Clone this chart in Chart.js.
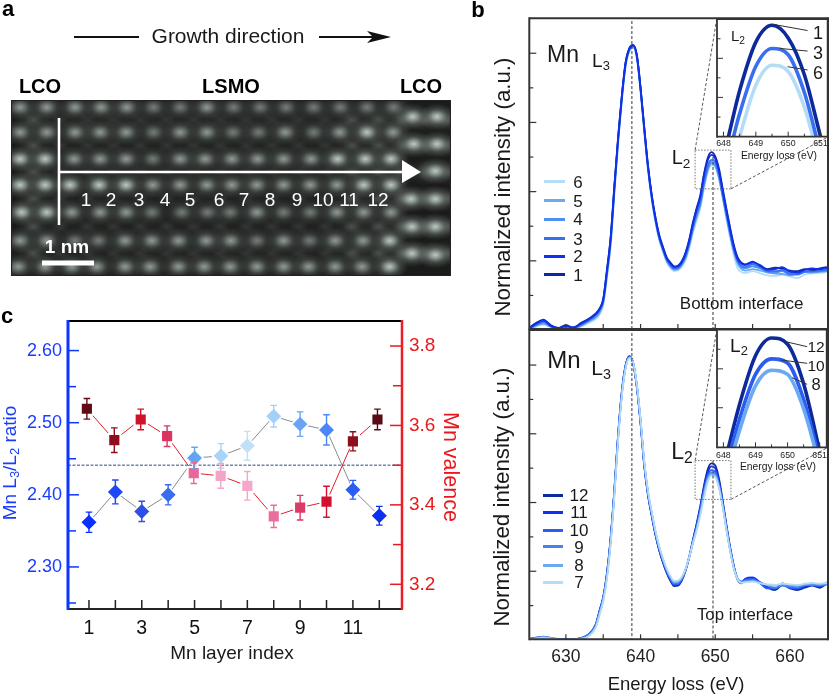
<!DOCTYPE html>
<html><head><meta charset="utf-8">
<script src="https://cdn.jsdelivr.net/npm/chart.js@4"></script>
<style>
html,body{margin:0;padding:0;background:#fff;width:830px;height:694px;overflow:hidden;font-family:"Liberation Sans",Arial,sans-serif}
canvas{position:absolute}
#ov{position:absolute;left:0;top:0;width:830px;height:694px;pointer-events:none}
.t{position:absolute;white-space:nowrap;line-height:1;transform-origin:center}
.k{position:absolute;height:3px}
sub{font-size:.68em;line-height:0;vertical-align:-.3em}
svg{position:absolute;left:0;top:0}
</style></head><body>
<canvas id="cA" width="440" height="176" style="left:11px;top:100px"></canvas>
<canvas id="cC" width="470" height="394" style="left:0;top:300px"></canvas>
<canvas id="cT" width="360" height="330" style="left:470px;top:0"></canvas>
<canvas id="cB" width="360" height="365" style="left:470px;top:329px"></canvas>
<canvas id="cTi" width="130" height="165" style="left:700px;top:0"></canvas>
<canvas id="cBi" width="130" height="165" style="left:700px;top:315px"></canvas>
<svg width="830" height="694" viewBox="0 0 830 694">
 <line x1="74" y1="37" x2="139" y2="37" stroke="#111" stroke-width="2"/>
 <line x1="319" y1="37" x2="378" y2="37" stroke="#111" stroke-width="2"/>
 <path d="M367 31 L391 37 L367 43 L373 37 Z" fill="#111"/>
 <line x1="59" y1="118" x2="59" y2="225" stroke="#fff" stroke-width="2.6"/>
 <line x1="59" y1="172" x2="404" y2="172" stroke="#fff" stroke-width="2.6"/>
 <path d="M402 160 L421 172 L402 183 Z" fill="#fff"/>
 <rect x="42" y="260.5" width="52" height="5" fill="#fff"/>
</svg>
<div id="ov"></div>
<script>
// ---------- panel c data ----------
const layerIndex=[1,2,3,4,5,6,7,8,9,10,11,12];
const valenceX=[0.92,1.96,2.96,3.96,4.97,5.99,7,8,9,10,11,11.93];
const ratio=[2.362,2.404,2.377,2.400,2.451,2.454,2.468,2.509,2.498,2.490,2.407,2.371];
const ratioErr=[.014,.0166,.014,.014,.015,.017,.02,.015,.017,.021,.013,.013];
const valence=[3.642,3.563,3.615,3.573,3.480,3.473,3.448,3.371,3.393,3.408,3.560,3.615];
const valenceErr=[.026,.031,.026,.026,.026,.031,.036,.028,.031,.039,.024,.026];
const ratioColors=['#0a2fff','#1f48f5','#2a50e8','#3a6cf0','#64a3f5','#a9d4f8','#bfe2fa','#a4d0f8','#6ba4f5','#4b87f7','#2a5ff0','#0a2fee'];
const valenceColors=['#620b15','#8f0e1d','#cf1228','#d93562','#e8679b','#f2a5c6','#f5a8c8','#ea6f9e','#dc3a68','#d3102e','#8d0f1c','#5a0a14'];
const ratioTicks=[2.25,2.30,2.35,2.40,2.45,2.50,2.55,2.60];
const valenceTicks=[3.2,3.3,3.4,3.5,3.6,3.7,3.8];
const halfValence=3.5;
// ---------- panel b data ----------
const energy=[625,626,627,628,629,630,631,632,633,634,634.5,635,635.5,636,636.5,637,637.5,638,638.5,639,639.5,640,640.5,641,641.5,642,642.5,643,643.5,644,644.5,645,645.5,646,646.5,647,647.5,648,648.5,649,649.5,650,650.5,651,651.5,652,652.5,653,653.5,654,655,656,657,658,659,660,661,662,663,664,665];
const layer1=[.005,.02,.03,.012,.006,.014,.006,.02,.032,.048,.062,.09,.175,.27,.42,.56,.68,.775,.815,.824,.795,.70,.585,.475,.39,.325,.275,.24,.21,.195,.184,.186,.198,.222,.26,.31,.352,.39,.452,.498,.514,.502,.467,.408,.35,.295,.245,.21,.195,.19,.198,.186,.176,.18,.178,.172,.17,.176,.174,.178,.182];
const layer2=[.004,.018,.028,.014,.005,.012,.008,.018,.03,.046,.06,.088,.172,.268,.418,.558,.678,.773,.814,.823,.795,.70,.583,.473,.388,.323,.272,.238,.208,.192,.182,.184,.196,.22,.257,.306,.348,.385,.448,.49,.506,.495,.46,.402,.345,.29,.24,.205,.192,.188,.195,.188,.174,.176,.182,.168,.166,.174,.178,.176,.18];
const layer3=[.004,.016,.024,.012,.006,.01,.005,.016,.028,.044,.058,.085,.168,.262,.412,.553,.675,.77,.812,.822,.793,.697,.58,.47,.385,.32,.268,.234,.204,.188,.178,.18,.192,.214,.25,.298,.338,.372,.43,.475,.492,.486,.45,.392,.336,.282,.234,.2,.186,.182,.19,.182,.17,.17,.174,.162,.16,.168,.17,.172,.174];
const layer4=[.003,.014,.022,.01,.004,.009,.006,.014,.026,.04,.055,.082,.163,.258,.408,.55,.672,.768,.81,.82,.79,.695,.578,.468,.382,.317,.266,.232,.202,.186,.176,.178,.19,.21,.246,.293,.332,.366,.424,.468,.486,.48,.445,.388,.332,.278,.23,.197,.182,.178,.184,.178,.168,.166,.17,.16,.162,.17,.168,.17,.172];
const layer5=[.003,.012,.018,.01,.005,.008,.004,.012,.024,.037,.05,.078,.158,.252,.402,.545,.668,.765,.808,.818,.788,.692,.575,.465,.38,.315,.264,.23,.2,.183,.174,.176,.187,.207,.242,.288,.326,.36,.418,.462,.481,.475,.44,.384,.328,.274,.226,.192,.176,.172,.176,.172,.166,.163,.162,.158,.165,.168,.166,.168,.17];
const layer6=[.002,.01,.016,.008,.004,.007,.004,.01,.02,.032,.045,.072,.15,.245,.395,.54,.664,.762,.806,.816,.785,.688,.57,.46,.375,.31,.26,.226,.196,.178,.17,.172,.182,.2,.235,.28,.315,.352,.408,.457,.476,.47,.436,.38,.32,.265,.215,.178,.168,.165,.17,.164,.158,.156,.16,.155,.15,.16,.164,.165,.168];
const layer12=[.002,.006,.008,.004,.003,.002,.001,.004,.014,.045,.085,.125,.195,.30,.44,.60,.725,.80,.826,.805,.735,.63,.505,.42,.36,.305,.26,.225,.195,.172,.157,.158,.172,.2,.24,.29,.338,.39,.45,.497,.514,.508,.47,.405,.335,.27,.215,.175,.165,.175,.178,.165,.152,.145,.16,.15,.145,.152,.158,.152,.165];
const layer11=[.002,.005,.007,.004,.002,.002,.001,.005,.015,.045,.084,.124,.193,.298,.438,.598,.723,.798,.825,.806,.737,.632,.507,.422,.362,.307,.262,.227,.197,.174,.159,.16,.174,.201,.24,.288,.334,.385,.444,.488,.505,.5,.462,.4,.33,.266,.212,.176,.168,.178,.182,.168,.155,.148,.165,.155,.148,.155,.16,.155,.168];
const layer10=[.003,.007,.009,.005,.003,.002,.002,.006,.016,.044,.082,.122,.19,.295,.435,.595,.72,.796,.824,.806,.738,.634,.51,.425,.365,.31,.265,.23,.2,.177,.162,.163,.176,.202,.24,.285,.33,.38,.436,.479,.494,.49,.455,.396,.328,.264,.212,.178,.17,.176,.178,.165,.15,.15,.16,.152,.15,.158,.162,.16,.166];
const layer9=[.002,.006,.01,.006,.002,.001,.002,.005,.014,.042,.08,.12,.187,.292,.432,.592,.718,.795,.823,.807,.74,.637,.513,.428,.368,.313,.268,.233,.203,.18,.165,.166,.178,.203,.24,.283,.326,.375,.43,.473,.488,.484,.45,.392,.325,.262,.21,.178,.17,.172,.175,.168,.158,.152,.158,.155,.154,.16,.16,.158,.162];
const layer8=[.001,.005,.008,.005,.002,.001,.001,.004,.012,.04,.077,.117,.184,.288,.428,.588,.715,.793,.822,.808,.742,.64,.516,.43,.37,.315,.27,.235,.205,.183,.168,.169,.18,.204,.24,.282,.322,.37,.425,.468,.483,.479,.446,.39,.322,.26,.208,.177,.168,.17,.172,.166,.16,.158,.162,.16,.158,.162,.164,.162,.164];
const layer7=[.001,.004,.006,.004,.001,.001,.001,.003,.01,.036,.072,.112,.178,.28,.42,.582,.71,.79,.82,.808,.744,.643,.52,.433,.373,.318,.273,.238,.208,.186,.172,.173,.183,.205,.24,.28,.318,.362,.415,.46,.478,.474,.442,.386,.32,.258,.207,.176,.166,.168,.17,.165,.162,.16,.164,.162,.16,.164,.166,.164,.166];
const bottomIfaceNames=['6','5','4','3','2','1'];
const bottomIfaceSeries=[layer6,layer5,layer4,layer3,layer2,layer1];
const bottomIfaceColors=['#b5dcf7','#6aaaf0','#4f8ef5','#3a6ef0','#1030f0','#0c2a9a'];
const topIfaceNames=['12','11','10','9','8','7'];
const topIfaceSeries=[layer12,layer11,layer10,layer9,layer8,layer7];
const topIfaceColors=['#0c2a9a','#1030f0','#2c5cf0','#4a80ee','#6aaaf5','#b5dcf7'];
const energyTicks=[630,635,640,645,650,655,660];
const energyLabels=[630,640,650,660];
const intensityTicks=[.1,.2,.3,.4,.5,.6,.7,.8];
const insetEnergyTicks=[648,648.5,649,649.5,650,650.5,651];
const insetEnergyLabels=[648,649,650,651];
const insetTicksUpper=[.4267,.4454,.464,.4826,.5012];
const insetTicksLower=[.428,.447,.4659,.4844,.5032];
// ---------- panel a data (image columns / rows of atoms) ----------
const atomRowY=[322,397,477,555,637,722,800];
const atomX=[
 [60,140,225,303,380,460,540,620,700,780,858,940,1020,1100,1180],
 [60,140,225,300,378,460,540,620,698,775,855,940,1018,1100,1178],
 [60,135,222,300,378,458,540,615,695,772,850,932,1012,1095,1172],
 [60,135,210,297,378,458,540,620,695,770,850,930,1010,1090,1172],
 [65,140,215,300,378,455,545,622,690,770,850,930,1010,1090,1172],
 [60,140,225,295,375,455,535,618,692,770,850,928,1005,1088,1168],
 [55,135,215,290,375,450,535,612,690,770,850,925,1005,1085,1168]];
const atomLevel=[
 [2,2,2,2,2,1,1,2,1,1,1,1,1,1,1],
 [2,2,2,2,2,1,2,2,1,1,2,1,2,3,2],
 [3,3,2,2,2,1,2,2,2,2,2,2,3,3,3],
 [3,3,3,3,3,2,2,2,2,2,2,2,2,3,3],
 [3,3,2,2,2,1,1,1,1,2,1,1,2,2,2],
 [2,2,1,1,2,2,2,2,2,1,2,1,2,2,3],
 [2,2,2,2,2,2,2,2,2,2,2,2,2,2,3]];
const lcoAtomX=[1237,1310,1240,1310,1305,1232,1305,1235,1305,1235,1305];
const lcoAtomY=[350,350,432,432,513,597,597,680,680,760,765];
const faintRowY=[360,437,516,596,680,760];
const faintX=[100,180,262,340,420,500,580,660,738,815,895,975,1055,1135,1205,1275,1340];
const faintLevel=[5,4,4,4,4,4,4,4,4,4,4,4,5,5,5,5,5];

Chart.defaults.font.family='"Liberation Sans",Arial,sans-serif';
Chart.defaults.animation=false;
const pts=(xs,ys)=>xs.map((x,i)=>({x,y:ys[i]}));
let decoN=0;
function deco(cfg){return{id:'deco'+(decoN++),
 beforeDatasetsDraw(ch){if(!cfg.fill)return;const a=ch.chartArea,c=ch.ctx;c.save();c.fillStyle=cfg.fill;c.fillRect(a.left,a.top,a.width,a.height);c.restore()},
 afterDatasetsDraw(ch){const a=ch.chartArea,c=ch.ctx;c.save();
  (cfg.ticks||[]).forEach(t=>{const s=ch.scales[t.scale];c.strokeStyle=t.color;c.lineWidth=t.width||1;
   t.values.forEach((v,i)=>{const p=s.getPixelForValue(v),L=t.len(v,i);c.beginPath();
    if(t.side==='left'){c.moveTo(a.left,p);c.lineTo(a.left+L,p)}
    else if(t.side==='right'){c.moveTo(a.right,p);c.lineTo(a.right-L,p)}
    else if(t.side==='bottom'){c.moveTo(p,a.bottom);c.lineTo(p,a.bottom-L)}
    c.stroke()})});
  (cfg.frame||[]).forEach(f=>{c.strokeStyle=f.color;c.lineWidth=f.width;c.beginPath();
   if(f.side==='left'){c.moveTo(a.left,a.top-1);c.lineTo(a.left,a.bottom+1)}
   if(f.side==='right'){c.moveTo(a.right,a.top-1);c.lineTo(a.right,a.bottom+1)}
   if(f.side==='top'){c.moveTo(a.left,a.top);c.lineTo(a.right,a.top)}
   if(f.side==='bottom'){c.moveTo(a.left,a.bottom);c.lineTo(a.right,a.bottom)}
   c.stroke()});
  if(cfg.after)cfg.after(ch,c);
  c.restore()}}}
const hiddenLinear=(min,max,extra)=>Object.assign({type:'linear',min,max,display:false},extra||{});
const noChrome={legend:{display:false},tooltip:{enabled:false}};
const box4=(color,width)=>['left','right','top','bottom'].map(side=>({side,color,width}));
const noGrid={display:false,drawTicks:false};

// ---------- panel a ----------
function sprite(alpha){const w=38,h=28,k=document.createElement('canvas');k.width=w;k.height=h;const c=k.getContext('2d');
 c.translate(w/2,h/2);c.scale(1,.74);const g=c.createRadialGradient(0,0,0,0,0,w/2);
 g.addColorStop(0,`rgba(196,208,200,${alpha})`);g.addColorStop(.26,`rgba(165,178,170,${alpha*.78})`);g.addColorStop(.55,`rgba(120,130,124,${alpha*.4})`);g.addColorStop(1,'rgba(90,95,92,0)');
 c.fillStyle=g;c.fillRect(-w/2,-h/2/.74,w,h/.74);return k}
const sprites={1:sprite(.56),2:sprite(.72),3:sprite(.98),4:sprite(.16),5:sprite(.3)};
const atomSets=atomX.map((xs,r)=>({type:'scatter',label:'row '+(r+1),data:xs.map(x=>({x,y:atomRowY[r]})),pointStyle:atomLevel[r].map(l=>sprites[l]),pointRadius:8}));
atomSets.push({type:'scatter',label:'LCO',data:pts(lcoAtomX,lcoAtomY),pointStyle:sprites[3],pointRadius:8});
faintRowY.forEach(y=>atomSets.push({type:'scatter',label:'faint',data:faintX.map(x=>({x,y})),pointStyle:faintLevel.map(l=>sprites[l]),pointRadius:8}));
new Chart('cA',{type:'scatter',data:{datasets:atomSets},options:{responsive:false,layout:{padding:0,autoPadding:false},plugins:noChrome,
 scales:{x:hiddenLinear(33,1352),y:hiddenLinear(300,828,{reverse:true})}},
 plugins:[deco({fill:'#1a1b1a',frame:box4('#222',2)})]});

// ---------- panel c ----------
function errBars(ch,c){
 [['yL',layerIndex,ratio,ratioErr,ratioColors],['yR',valenceX,valence,valenceErr,valenceColors]].forEach(([yk,X,V,E,C])=>{
  X.forEach((x,i)=>{const px=ch.scales.x.getPixelForValue(x),a=ch.scales[yk].getPixelForValue(V[i]-E[i]),b=ch.scales[yk].getPixelForValue(V[i]+E[i]);
   c.strokeStyle=C[i];c.lineWidth=1.4;c.beginPath();c.moveTo(px,a);c.lineTo(px,b);c.moveTo(px-3.3,a);c.lineTo(px+3.3,a);c.moveTo(px-3.3,b);c.lineTo(px+3.3,b);c.stroke()})})}
new Chart('cC',{type:'line',data:{datasets:[
 {label:'Mn valence',yAxisID:'yR',data:pts(valenceX,valence),borderColor:'#e2202c',borderWidth:1,pointStyle:'rect',pointRadius:8.6,pointBackgroundColor:valenceColors,pointBorderColor:'#fff',pointBorderWidth:2},
 {label:'Mn L3/L2 ratio',yAxisID:'yL',data:pts(layerIndex,ratio),borderColor:'#8a8a92',borderWidth:1,pointStyle:'rectRot',pointRadius:8.5,pointBackgroundColor:ratioColors,pointBorderColor:'#fff',pointBorderWidth:1.5},
 {label:'3.5',yAxisID:'yR',data:[{x:.205,y:halfValence},{x:12.86,y:halfValence}],borderColor:'#2a4a80',borderWidth:1,borderDash:[3,1.5],pointRadius:0}
 ]},options:{responsive:false,layout:{padding:{top:21,left:0,right:0,bottom:0},autoPadding:false},plugins:noChrome,
 scales:{
  x:{type:'linear',min:.205,max:12.86,grid:noGrid,border:{display:false},afterFit:s=>{s.height=85},
   afterBuildTicks:s=>{s.ticks=layerIndex.map(value=>({value}))},
   ticks:{autoSkip:false,maxRotation:0,padding:8,color:'#111',font:{size:19.5},callback:v=>v%2?String(v):''}},
  yL:{position:'left',type:'linear',min:2.2417,max:2.641,grid:noGrid,border:{display:false},afterFit:s=>{s.width=68},
   afterBuildTicks:s=>{s.ticks=ratioTicks.map(value=>({value}))},
   ticks:{autoSkip:false,padding:6,color:'#1a3cff',font:{size:18},callback:v=>ratioTicks.indexOf(v)%2?v.toFixed(2):''}},
  yR:{position:'right',type:'linear',min:3.1378,max:3.863,grid:noGrid,border:{display:false},afterFit:s=>{s.width=68},
   afterBuildTicks:s=>{s.ticks=valenceTicks.map(value=>({value}))},
   ticks:{autoSkip:false,padding:7,color:'#e8181c',font:{size:19},callback:v=>valenceTicks.indexOf(v)%2?'':v.toFixed(1)}}
 }},plugins:[deco({
  ticks:[{scale:'x',side:'bottom',values:layerIndex,len:()=>9,color:'#222',width:1.5},
   {scale:'yL',side:'left',values:ratioTicks,len:(v,i)=>i%2?11:8,color:'#0a35ff',width:1.5},
   {scale:'yR',side:'right',values:valenceTicks,len:(v,i)=>i%2?9:12,color:'#e8181c',width:1.5}],
  frame:[{side:'top',color:'#000',width:2},{side:'bottom',color:'#222',width:2},{side:'left',color:'#0a35ff',width:3},{side:'right',color:'#ee1c25',width:2.5}],
  after:errBars})]});

// ---------- panel b ----------
const guide=(data,color,dash,width)=>({data,borderColor:color,borderDash:dash,borderWidth:width,pointRadius:0,tension:0});
function spectrum(id,names,series,colors,order,yMin,yMax,boxY,insetTopY,insetBotY,dashTop,pad,showLabels){
 const curves=order.map(i=>({label:names[i],data:pts(energy,series[i]),borderColor:colors[i],borderWidth:1.8,pointRadius:0,cubicInterpolationMode:'monotone'}));
 const guides=[
  guide([{x:638.84,y:.893},{x:638.84,y:yMin}],'#333',[3,2],1),
  guide([{x:649.7,y:dashTop},{x:649.7,y:yMin}],'#555',[3,2],1.2),
  guide([{x:647.3,y:boxY[0]},{x:652.1,y:boxY[0]},{x:652.1,y:boxY[1]},{x:647.3,y:boxY[1]},{x:647.3,y:boxY[0]}],'#666',[1.5,1.5],.9),
  guide([{x:647.3,y:boxY[0]},{x:650.2,y:insetTopY}],'#444',[3,2],.9),
  guide([{x:652.1,y:boxY[1]},{x:665.1,y:insetBotY}],'#444',[3,2],.9)];
 new Chart(id,{type:'line',data:{datasets:guides.concat(curves)},options:{responsive:false,layout:{padding:pad,autoPadding:false},plugins:noChrome,
  scales:{
   x:showLabels?{type:'linear',min:625.1,max:665.1,grid:noGrid,border:{display:false},afterFit:s=>{s.height=54.7},
     afterBuildTicks:s=>{s.ticks=energyLabels.map(value=>({value}))},ticks:{autoSkip:false,maxRotation:0,padding:7,color:'#222',font:{size:17.5},callback:v=>String(v)}}
    :hiddenLinear(625.1,665.1),
   y:hiddenLinear(yMin,yMax)}},
  plugins:[deco({ticks:[{scale:'x',side:'bottom',values:energyTicks,len:()=>5,color:'#333',width:1.2},
    {scale:'y',side:'left',values:intensityTicks,len:(v,i)=>i%2?7:4,color:'#333',width:1.2}],frame:box4('#333',2)})]});
}
// first-listed dataset is painted last in Chart.js
spectrum('cT',bottomIfaceNames,bottomIfaceSeries,bottomIfaceColors,[4,5,3,2,1,0],.003,.901,[.52,.408],.899,.558,.5,{left:59.3,right:2,top:18.3,bottom:1},false);
spectrum('cB',topIfaceNames,topIfaceSeries,topIfaceColors,[5,4,3,2,1,0],.002,.902,[.522,.409],.903,.5606,.522,{left:59.3,right:2,top:1,bottom:0},true);

function inset(id,curves,colors,names,leaders,yMin,yMax,yTicks,pad,xH,lblPad){
 const lead=leaders.map(l=>({data:[{x:l[0],y:l[1]},{x:l[2],y:l[3]}],borderColor:'#333',borderWidth:1,pointRadius:0,clip:false}));
 const cur=curves.map((s,i)=>({label:names[i],data:pts(energy,s),borderColor:colors[i],borderWidth:3.6,pointRadius:0,cubicInterpolationMode:'monotone'}));
 new Chart(id,{type:'line',data:{datasets:lead.concat(cur)},options:{responsive:false,layout:{padding:pad,autoPadding:false},plugins:noChrome,
  scales:{x:{type:'linear',min:647.8,max:651.22,grid:noGrid,border:{display:false},afterFit:s=>{s.height=xH},
    afterBuildTicks:s=>{s.ticks=insetEnergyLabels.map(value=>({value}))},ticks:{autoSkip:false,maxRotation:0,padding:lblPad,color:'#222',font:{size:8.8},callback:v=>String(v)}},
   y:hiddenLinear(yMin,yMax)}},
  plugins:[deco({fill:'#fff',ticks:[{scale:'x',side:'bottom',values:insetEnergyTicks,len:(v,i)=>i%2?3:5,color:'#333',width:1},
    {scale:'y',side:'left',values:yTicks,len:(v,i)=>i%2?6:3.5,color:'#333',width:1}],frame:box4('#333',1.8)})]});
}
inset('cTi',[layer1,layer3,layer6],['#0c2a9a','#3a6ef0','#b5dcf7'],['1','3','6'],
 [[649.52,.515,650.6,.509],[649.74,.492,650.6,.4895],[649.98,.4746,650.6,.4715]],.408,.52,insetTicksUpper,{left:17,right:1.7,top:19,bottom:0},28.3,2);
inset('cBi',[layer8,layer10,layer12],['#6aaaf5','#2c5cf0','#0c2a9a'],['8','10','12'],
 [[649.94,.5105,650.61,.5057],[649.79,.4929,650.61,.4897],[650.14,.4759,650.61,.4695]],.409,.522,insetTicksLower,{left:17,right:0,top:14.7,bottom:0},32.7,3);

// ---------- text overlay ----------
const ov=document.getElementById('ov');
function T(html,x,y,size,o){o=o||{};const d=document.createElement('div');d.className='t';d.innerHTML=html;
 d.style.cssText+=`left:${x}px;top:${y}px;font-size:${size}px;color:${o.c||'#1a1a1a'};font-weight:${o.b?'bold':'normal'};transform:translate(-50%,-50%) rotate(${o.r||0}deg)`;ov.appendChild(d)}
T('a',8,9,22,{b:1,c:'#000'});T('b',478,10,22,{b:1,c:'#000'});T('c',7,316,22,{b:1,c:'#000'});
T('Growth direction',228,35,21);
T('LCO',40,86,20,{b:1,c:'#000'});T('LSMO',231,86,20,{b:1,c:'#000'});T('LCO',421,86,20,{b:1,c:'#000'});
[86,111,139,165,190,219,244,270,297,323,349,378].forEach((x,i)=>T(String(layerIndex[i]),x,199,19,{c:'#fff'}));
T('1 nm',67,246,19,{b:1,c:'#fff'});
T('Mn L<sub>3</sub>/L<sub>2</sub> ratio',9,463,19,{r:-90,c:'#1a3cff'});
T('Mn valence',450,467,21.5,{r:90,c:'#e8181c'});
T('Mn layer index',232,652,19);
T('Normalized intensity (a.u.)',503,187,22.3,{r:-90});
T('Normalized intensity (a.u.)',502,497,22.3,{r:-90});
T('Energy loss (eV)',676,684,18.5);
T('Mn',563,54,23);T('L<sub>3</sub>',601,60,19);T('L<sub>2</sub>',681,157,20);
T('Mn',564,360,24);T('L<sub>3</sub>',601,367,21);T('L<sub>2</sub>',682,451,23);
T('Bottom interface',741.7,303,17);T('Top interface',745,615,16.8);
T('L<sub>2</sub>',738,35,15);T('L<sub>2</sub>',739,345,19);
T('Energy loss (eV)',779,155.7,10.3);T('Energy loss (eV)',778,466.7,10.3);
T('1',818,33,18);T('3',818,53,18);T('6',818,73,18);
T('12',816,347,15.5);T('10',816,366,15.5);T('8',816,384,16.5);
function legend(names,colors,ys,x0,x1,tx){names.forEach((n,i)=>{const k=document.createElement('div');k.className='k';
 k.style.cssText+=`left:${x0}px;width:${x1-x0}px;top:${ys[i]-1.5}px;background:${colors[i]}`;ov.appendChild(k);T(n,tx,ys[i],17)})}
legend(bottomIfaceNames,bottomIfaceColors,[181.7,200.7,219,238.7,256,274.7],544,565,578);
legend(topIfaceNames,topIfaceColors,[495,512.3,530,546.7,565,582.3],543,563,579);
</script>
</body></html>
